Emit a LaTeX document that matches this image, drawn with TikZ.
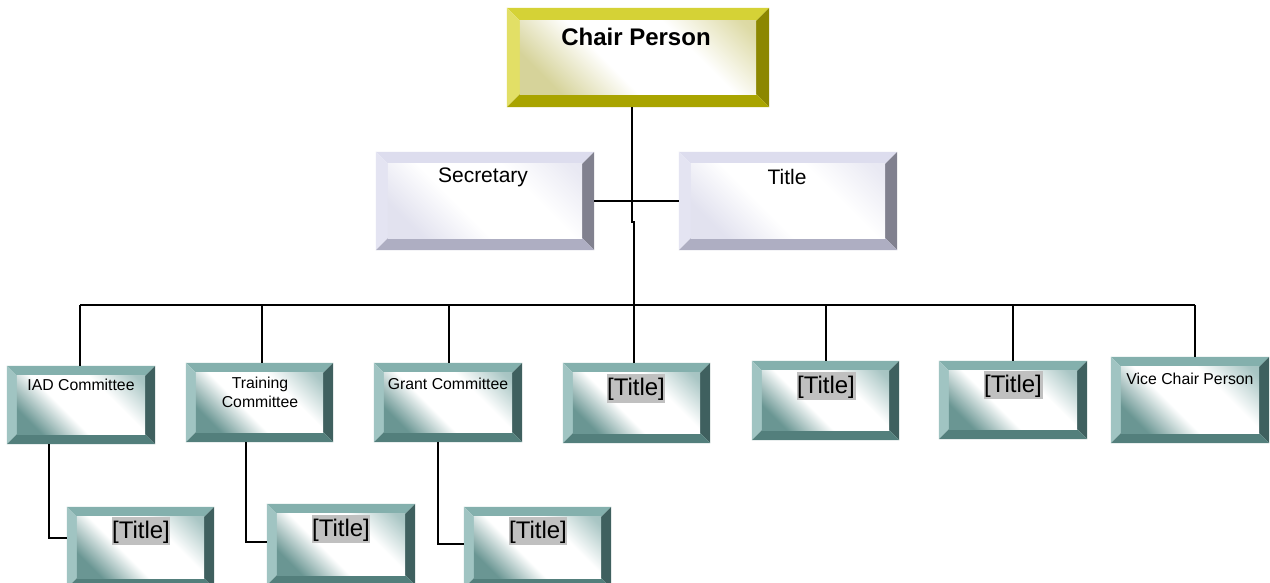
\documentclass[tikz,border=0pt]{standalone}
\usepackage{fontspec}
\setmainfont{Liberation Sans}
\usetikzlibrary{calc}
\definecolor{tlT}{HTML}{84B0AD}
\definecolor{tlL}{HTML}{A0C4C2}
\definecolor{tlR}{HTML}{3F605F}
\definecolor{tlB}{HTML}{537F7C}
\definecolor{tlA}{HTML}{6A9693}
\definecolor{tlC}{HTML}{8DB3B1}
\definecolor{ywT}{HTML}{D5D236}
\definecolor{ywL}{HTML}{E2DF66}
\definecolor{ywR}{HTML}{8C8700}
\definecolor{ywB}{HTML}{A9A400}
\definecolor{ywA}{HTML}{D6D39A}
\definecolor{ywC}{HTML}{D2CE88}
\definecolor{lvT}{HTML}{DDDDEE}
\definecolor{lvL}{HTML}{E4E4F2}
\definecolor{lvR}{HTML}{81818F}
\definecolor{lvB}{HTML}{AEAEC2}
\definecolor{lvA}{HTML}{E2E2EF}
\definecolor{lvC}{HTML}{E2E2EF}
\definecolor{hl}{HTML}{C0C0C0}
\pgfdeclarehorizontalshading{tealface}{100bp}{color(0bp)=(tlA); color(24bp)=(tlA); color(42bp)=(white); color(64bp)=(white); color(82bp)=(tlC!75!white); color(100bp)=(tlC)}
\pgfdeclarehorizontalshading{yelface}{100bp}{color(0bp)=(ywA); color(24bp)=(ywA); color(42bp)=(white); color(64bp)=(white); color(82bp)=(ywC!75!white); color(100bp)=(ywC)}
\pgfdeclarehorizontalshading{lavface}{100bp}{color(0bp)=(lvA); color(24bp)=(lvA); color(42bp)=(white); color(64bp)=(white); color(82bp)=(lvC!75!white); color(100bp)=(lvC)}
\tikzset{
  tealT/.style={fill=tlT}, tealL/.style={fill=tlL}, tealR/.style={fill=tlR}, tealB/.style={fill=tlB},
  tealF/.style={shading=tealface, shading angle=45},
  yelT/.style={fill=ywT}, yelL/.style={fill=ywL}, yelR/.style={fill=ywR}, yelB/.style={fill=ywB},
  yelF/.style={shading=yelface, shading angle=45},
  lavT/.style={fill=lvT}, lavL/.style={fill=lvL}, lavR/.style={fill=lvR}, lavB/.style={fill=lvB},
  lavF/.style={shading=lavface, shading angle=45},
  conn/.style={draw=black, line width=1.6pt},
  lbl/.style={inner sep=0pt, align=center, text=black, font=\fontsize{15.8}{18.5}\selectfont},
  big/.style={inner sep=0pt, font=\fontsize{21}{24}\selectfont},
  ttl/.style={fill=hl, inner xsep=0.6pt, inner ysep=0pt, text height=21.5pt, text depth=7pt, font=\fontsize{24}{28}\selectfont},
}
\newcommand{\bevbox}[6]{%
  \node[inner sep=0pt, minimum width=#3pt, minimum height=#4pt] (#1) at #2 {};
  \fill[#5T] (#1.north west) -- (#1.north east) -- ([shift={(-#6,#6)}]#1.north east) -- ([shift={(#6,#6)}]#1.north west) -- cycle;
  \fill[#5L] (#1.north west) -- ([shift={(#6,#6)}]#1.north west) -- ([shift={(#6,-#6)}]#1.south west) -- (#1.south west) -- cycle;
  \fill[#5R] (#1.north east) -- ([shift={(-#6,#6)}]#1.north east) -- ([shift={(-#6,-#6)}]#1.south east) -- (#1.south east) -- cycle;
  \fill[#5B] (#1.south west) -- ([shift={(#6,-#6)}]#1.south west) -- ([shift={(-#6,-#6)}]#1.south east) -- (#1.south east) -- cycle;
  \shade[#5F] ([shift={(#6,#6)}]#1.north west) rectangle ([shift={(-#6,-#6)}]#1.south east);
}
\begin{document}
\begin{tikzpicture}[x=1pt,y=-1pt]
\useasboundingbox (0,0) rectangle (1270,583);
\fill[white] (0,0) rectangle (1270,583);
% coordinates
\coordinate (jogA) at (632,222);
\coordinate (jogB) at (634,222);
\coordinate (busL) at (80,305);
\coordinate (busR) at (1195,305);
\coordinate (d2) at (262,305);
\coordinate (d3) at (449,305);
\coordinate (d5) at (826,305);
\coordinate (d6) at (1013,305);
\coordinate (c1) at (49,538);
\coordinate (c2) at (246,542);
\coordinate (c3) at (438,544);
% boxes
\bevbox{chair}{(638,57.5)}{262}{99}{yel}{13}
\bevbox{secretary}{(485,201)}{218}{98}{lav}{12}
\bevbox{title}{(788,201)}{218}{98}{lav}{12}
\bevbox{iad}{(81,405)}{148}{78}{teal}{10}
\bevbox{training}{(259.5,402.5)}{147}{79}{teal}{10}
\bevbox{grant}{(448,402.5)}{148}{79}{teal}{10}
\bevbox{tfour}{(636.5,403)}{147}{80}{teal}{10}
\bevbox{tfive}{(825.5,400.5)}{147}{79}{teal}{10}
\bevbox{tsix}{(1013,400)}{148}{78}{teal}{10}
\bevbox{vice}{(1190,400)}{158}{86}{teal}{10}
\bevbox{bone}{(140.5,547.5)}{147}{81}{teal}{10}
\bevbox{btwo}{(341,544.5)}{148}{81}{teal}{10}
\bevbox{bthree}{(537.5,547.5)}{147}{81}{teal}{10}
% connectors
\draw[conn] (chair.south -| jogA) -- (jogA) -- (jogB) -- (jogB |- tfour.north);
\draw[conn] (secretary.east) -- (title.west);
\draw[conn] (busL) -- (busR);
\draw[conn] (busL) -- (busL |- iad.north);
\draw[conn] (d2) -- (d2 |- training.north);
\draw[conn] (d3) -- (d3 |- grant.north);
\draw[conn] (d5) -- (d5 |- tfive.north);
\draw[conn] (d6) -- (d6 |- tsix.north);
\draw[conn] (busR) -- (busR |- vice.north);
\draw[conn] (iad.south -| c1) -- (c1) -- (c1 -| bone.west);
\draw[conn] (training.south -| c2) -- (c2) -- (c2 -| btwo.west);
\draw[conn] (grant.south -| c3) -- (c3) -- (c3 -| bthree.west);
% labels
\node[inner sep=0pt, font=\bfseries\fontsize{24}{28}\selectfont] (lchair) at (636,37) {Chair Person};
\node[big] (lsec) at (483,177) {Secretary};
\node[big] (ltitle) at (787,177) {Title};
\node[lbl] (liad) at (81,385) {IAD Committee};
\node[lbl] (ltraining) at (260,392.5) {Training\\Committee};
\node[lbl] (lgrant) at (448,384) {Grant Committee};
\node[lbl] (lvice) at (1190,379) {Vice Chair Person};
\node[ttl] (ltfour) at (636,388.5) {[Title]};
\node[ttl] (ltfive) at (826,386) {[Title]};
\node[ttl] (ltsix) at (1013,385) {[Title]};
\node[ttl] (lbone) at (141,531) {[Title]};
\node[ttl] (lbtwo) at (341,529) {[Title]};
\node[ttl] (lbthree) at (538,531) {[Title]};
\end{tikzpicture}
\end{document}
